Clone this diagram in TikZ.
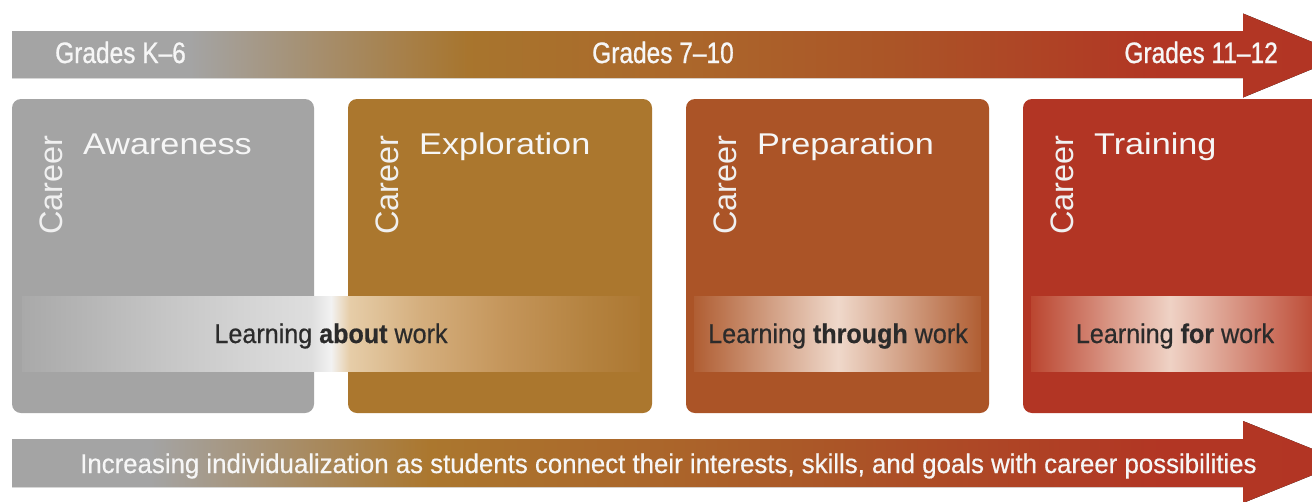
\documentclass[tikz,border=0pt]{standalone}
\usepackage{fontspec}
\setmainfont{Liberation Sans}
\newfontfamily\gradefont[FakeStretch=0.83,FakeBold=0.9]{Liberation Sans}
\newfontfamily\titlefont[FakeStretch=1.14]{Liberation Sans}
\newfontfamily\learnfont[FakeStretch=0.93,FakeBold=0.6]{Liberation Sans}
\newfontfamily\bottomfont[FakeStretch=0.956,FakeBold=0.5]{Liberation Sans}
\definecolor{cgray}{HTML}{A4A4A4}
\definecolor{cgold}{HTML}{AB772E}
\definecolor{cbrown}{HTML}{AB5427}
\definecolor{cred}{HTML}{B23524}
\definecolor{txtdark}{HTML}{2B2B2B}
\definecolor{txtlight}{HTML}{F6F6F6}
\pgfdeclarehorizontalshading{topshade}{100bp}{color(0bp)=(cgray); color(31.68bp)=(cgray); color(42.18bp)=(cgold!98!black); color(49.42bp)=(cgold!60!cbrown); color(58.31bp)=(cbrown); color(67.69bp)=(cred!95!cbrown); color(75bp)=(cred); color(100bp)=(cred)}
\pgfdeclarehorizontalshading{bottomshade}{100bp}{color(0bp)=(cgray); color(30.18bp)=(cgray); color(40.68bp)=(cgold); color(49.42bp)=(cgold!50!cbrown); color(56.43bp)=(cbrown); color(67.69bp)=(cred!95!cbrown); color(75bp)=(cred); color(100bp)=(cred)}
\definecolor{ba1}{HTML}{A9A9A9}
\definecolor{ba2}{HTML}{B5B5B5}
\definecolor{ba3}{HTML}{C6C6C6}
\definecolor{ba4}{HTML}{D5D5D5}
\definecolor{ba5}{HTML}{DEDEDE}
\definecolor{ba6}{HTML}{F2F2F2}
\definecolor{ba7}{HTML}{E6CDA8}
\definecolor{ba8}{HTML}{D4AE7D}
\definecolor{ba9}{HTML}{C4955A}
\definecolor{ba10}{HTML}{B4823F}
\definecolor{ba11}{HTML}{AD7832}
\pgfdeclarehorizontalshading{bandone}{100bp}{color(0bp)=(ba1); color(25bp)=(ba1); color(30bp)=(ba2); color(36.8bp)=(ba3); color(43.6bp)=(ba4); color(48.4bp)=(ba5); color(50bp)=(ba6); color(51.5bp)=(ba7); color(57.3bp)=(ba8); color(64.1bp)=(ba9); color(70.9bp)=(ba10); color(75bp)=(ba11); color(100bp)=(ba11)}
\definecolor{bt1}{HTML}{B05E33}
\definecolor{bt2}{HTML}{EFD8CA}
\pgfdeclarehorizontalshading{bandthree}{100bp}{color(0bp)=(bt1); color(25bp)=(bt1); color(50.1bp)=(bt2); color(75bp)=(bt1); color(100bp)=(bt1)}
\definecolor{bf1}{HTML}{BB4630}
\definecolor{bf2}{HTML}{EFD2C5}
\pgfdeclarehorizontalshading{bandfour}{100bp}{color(0bp)=(bf1); color(25bp)=(bf1); color(49.05bp)=(bf2); color(75bp)=(bf1); color(100bp)=(bf1)}
\tikzset{
  stagebox/.style={rounded corners=9pt},
  careerlbl/.style={rotate=90, anchor=base west, inner sep=0pt, text=txtlight!95!gray, font=\fontsize{32.5}{34}\selectfont},
  titlelbl/.style={anchor=base west, inner sep=0pt, text=txtlight, font=\titlefont\fontsize{30}{32}\selectfont},
  gradelbl/.style={inner sep=0pt, text=txtlight, font=\gradefont\fontsize{29.5}{31}\selectfont},
  learnlbl/.style={anchor=base, inner sep=0pt, text=txtdark, font=\learnfont\fontsize{27}{29}\selectfont},
  bottomlbl/.style={anchor=base west, inner sep=0pt, text=txtlight, font=\bottomfont\fontsize{27}{29}\selectfont},
}
\begin{document}
\begin{tikzpicture}[x=1pt,y=-1pt]
\useasboundingbox (0,0) rectangle (1312,501);
\fill[white] (0,0) rectangle (1312,501);
\clip (0,0) rectangle (1312,501);
% top arrow
\fill[shading=topshade] (12,31) -- (1243,31) -- (1243,13.5) -- (1345,55.5) -- (1243,97.5) -- (1243,78) -- (12,78) -- cycle;
% bottom arrow
\fill[shading=bottomshade] (12,439) -- (1243,439) -- (1243,421) -- (1345,462) -- (1243,503) -- (1243,487) -- (12,487) -- cycle;
% boxes
\fill[stagebox, cgray] (12,99) rectangle (314,413);
\fill[stagebox, cgold] (348,99) rectangle (652,413);
\fill[stagebox, cbrown] (686,99) rectangle (989,413);
\fill[stagebox, cred] (1023,99) rectangle (1340,413);
% bands
\fill[shading=bandone] (22,296) rectangle (640,371);
\fill[shading=bandthree] (694,296) rectangle (981,371);
\fill[shading=bandfour] (1031,296) rectangle (1320,371);
% grade labels
\node[gradelbl, anchor=base west] (g1) at (55,63) {Grades K–6};
\node[gradelbl, anchor=base] (g2) at (663,63) {Grades 7–10};
\node[gradelbl, anchor=base east] (g3) at (1278,63) {Grades 11–12};
% career labels
\node[careerlbl] (c1) at (62,235) {Career};
\node[careerlbl] (c2) at (398,235) {Career};
\node[careerlbl] (c3) at (736,235) {Career};
\node[careerlbl] (c4) at (1073,235) {Career};
% titles
\node[titlelbl] (t1) at (83,154) {Awareness};
\node[titlelbl] (t2) at (419,154) {Exploration};
\node[titlelbl] (t3) at (757,154) {Preparation};
\node[titlelbl] (t4) at (1094,154) {Training};
% learning labels
\node[learnlbl] (l1) at (331,343) {Learning \textbf{about} work};
\node[learnlbl] (l2) at (838,343) {Learning \textbf{through} work};
\node[learnlbl] (l3) at (1175,343) {Learning \textbf{for} work};
% bottom label
\node[bottomlbl] (bt) at (80,473) {Increasing individualization as students connect their interests, skills, and goals with career possibilities};
\end{tikzpicture}
\end{document}
